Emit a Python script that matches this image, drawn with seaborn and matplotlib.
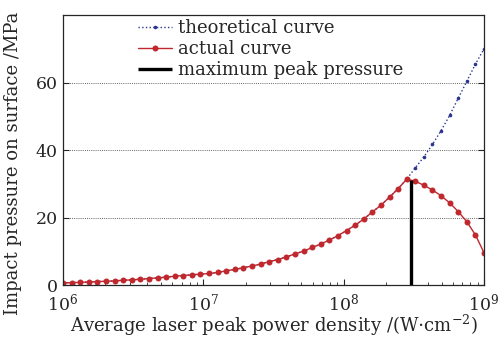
import numpy as np
import pandas as pd
import matplotlib
matplotlib.use('Agg')
import matplotlib.pyplot as plt
import seaborn as sns
from matplotlib.ticker import LogLocator, NullFormatter

# 50 log-spaced laser power density samples, 1e6 .. 1e9 W/cm^2
power_density = np.logspace(6, 9, 50)

actual_pressure = [
    0.7, 0.8, 0.85, 1.0, 1.1, 1.2, 1.3, 1.5, 1.6, 1.8, 2.0, 2.2, 2.4, 2.7, 2.9, 3.1, 3.3,
    3.5, 3.8, 4.3, 4.7, 5.2, 5.7, 6.3, 7.0, 7.6, 8.4, 9.3, 10.1, 11.2, 12.2, 13.4, 14.7, 16.2, 17.8,
    19.6, 21.7, 23.7, 26.1, 28.6, 31.4, 30.8, 29.6, 28.2, 26.5, 24.4, 21.8, 18.8, 14.9, 9.6,
]
# theoretical curve follows the actual one up to the peak, then keeps rising
theory_tail = [34.8, 38.0, 41.7, 45.8, 50.3, 55.4, 60.4, 65.5, 70.0]
theoretical_pressure = actual_pressure[:41] + theory_tail

peak_density = 3e8
peak_pressure = 31.2

y_ticks = [0, 20, 40, 60]

df = pd.DataFrame({
    'density': power_density,
    'actual': actual_pressure,
    'theory': theoretical_pressure,
})

sns.set_style('ticks')
plt.rcParams['font.family'] = ['DejaVu Serif']
plt.rcParams['mathtext.fontset'] = 'dejavuserif'
plt.rcParams['font.size'] = 13

fig = plt.figure(figsize=(4.98, 3.37), dpi=100)
ax = fig.add_axes([0.1265, 0.1534, 0.8455, 0.8021])

sns.lineplot(data=df, x='density', y='theory', ax=ax, color='#2a3590', linestyle=':',
             linewidth=1.0, marker='o', markersize=2.6, markeredgewidth=0,
             label='theoretical curve')
sns.lineplot(data=df, x='density', y='actual', ax=ax, color='#c0282e', linewidth=1.0,
             marker='o', markersize=4.3, markeredgewidth=0, label='actual curve')
ax.vlines(peak_density, 0, peak_pressure, color='black', linewidth=2.4,
          label='maximum peak pressure', zorder=5)

ax.set_xscale('log')
ax.set_xlim(1e6, 1e9)
ax.set_ylim(0, 80)
ax.set_yticks(y_ticks)
ax.xaxis.set_minor_locator(LogLocator(base=10, subs=np.arange(2, 10)))
ax.xaxis.set_minor_formatter(NullFormatter())

for y in [20, 40, 60]:
    ax.axhline(y, color='#666666', linestyle=(0, (1, 1.2)), linewidth=0.7, zorder=0)

ax.tick_params(axis='both', which='major', direction='in', length=4, width=0.8,
               labelsize=12.5, right=True, top=False)
ax.tick_params(axis='y', which='major', pad=4)
ax.tick_params(axis='x', which='major', pad=5)
ax.tick_params(axis='x', which='minor', direction='in', length=2.5, width=0.6, top=False)
for s in ax.spines.values():
    s.set_linewidth(0.9)

ax.set_xlabel(r'Average laser peak power density /(W$\cdot$cm$^{-2}$)', fontsize=13, labelpad=-1)
ax.set_ylabel('Impact pressure on surface /MPa', fontsize=13, labelpad=3)
ax.yaxis.set_label_coords(-0.098, 0.45)

ax.legend(loc='upper left', bbox_to_anchor=(0.16, 1.012), frameon=False, fontsize=13,
          handlelength=1.9, handletextpad=0.35, labelspacing=0.17, borderaxespad=0)

fig.savefig('out.png', dpi=100)
